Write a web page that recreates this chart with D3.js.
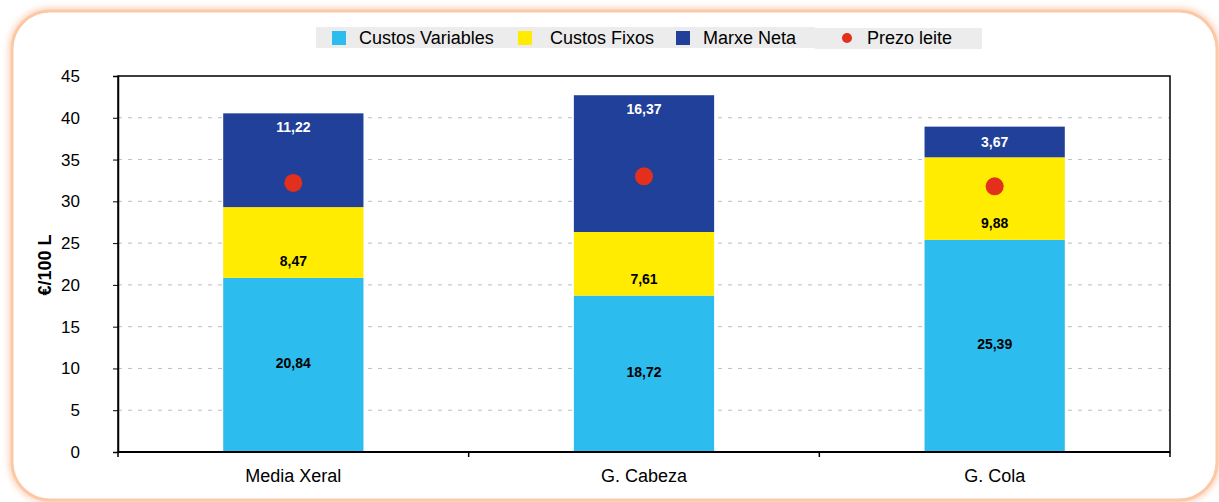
<!DOCTYPE html>
<html lang="gl">
<head>
<meta charset="utf-8">
<title>Custos e prezo do leite</title>
<script src="https://cdn.jsdelivr.net/npm/d3@7"></script>
<style>
  body { margin: 0; background: #fff; }
  text { font-family: "Liberation Sans", Arial, sans-serif; }
</style>
</head>
<body>
<script>
// data
var categories = ["Media Xeral", "G. Cabeza", "G. Cola"];
var custosVariables = [20.84, 18.72, 25.39];
var custosFixos = [8.47, 7.61, 9.88];
var marxeNeta = [11.22, 16.37, 3.67];
var prezoLeite = [32.2, 33.0, 31.8];
var yTicks = [0, 5, 10, 15, 20, 25, 30, 35, 40, 45];

var seriesNames = ["Custos Variables", "Custos Fixos", "Marxe Neta"];
var seriesColors = ["#2dbcee", "#ffec00", "#21409a"];
var dotColor = "#e2301c";

var width = 1219, height = 502;
var margin = {left: 118, right: 49, top: 76, bottom: 50};

var svg = d3.select("body").append("svg")
    .attr("width", width)
    .attr("height", height);

// soft rounded frame
var defs = svg.append("defs");
var blur = defs.append("filter").attr("id", "glow")
    .attr("x", "-5%").attr("y", "-5%").attr("width", "110%").attr("height", "110%");
blur.append("feGaussianBlur").attr("stdDeviation", 3);

svg.append("rect")
    .attr("x", 12).attr("y", 11).attr("width", 1205).attr("height", 489)
    .attr("rx", 38)
    .attr("fill", "none").attr("stroke", "#fbd3bb").attr("stroke-width", 7)
    .attr("filter", "url(#glow)");
svg.append("rect")
    .attr("x", 12).attr("y", 11).attr("width", 1205).attr("height", 489)
    .attr("rx", 38)
    .attr("fill", "#fff").attr("stroke", "#fcc8a6").attr("stroke-width", 3);

var x = d3.scaleBand()
    .domain(categories)
    .range([margin.left, width - margin.right])
    .paddingInner(0.6)
    .paddingOuter(0.3);

var y = d3.scaleLinear()
    .domain([0, 45])
    .range([height - margin.bottom, margin.top]);

var plotW = width - margin.right - margin.left;

// gridlines
svg.append("g")
    .selectAll("line")
    .data(yTicks.filter(function(d) { return d > 0 && d < 45; }))
    .enter()
    .append("line")
    .attr("x1", margin.left).attr("x2", width - margin.right)
    .attr("y1", function(d) { return y(d); })
    .attr("y2", function(d) { return y(d); })
    .attr("stroke", "#bdbdbd")
    .attr("stroke-dasharray", "4,6");

// stacked bars
var table = categories.map(function(c, i) {
    return {cat: c, "Custos Variables": custosVariables[i], "Custos Fixos": custosFixos[i], "Marxe Neta": marxeNeta[i]};
});
var stack = d3.stack().keys(seriesNames)(table);

var layers = svg.append("g").selectAll("g")
    .data(stack)
    .enter()
    .append("g")
    .attr("fill", function(d, i) { return seriesColors[i]; });

layers.selectAll("rect")
    .data(function(d) { return d; })
    .enter()
    .append("rect")
    .attr("x", function(d) { return x(d.data.cat); })
    .attr("y", function(d) { return y(d[1]); })
    .attr("width", x.bandwidth())
    .attr("height", function(d) { return y(d[0]) - y(d[1]); });

// value labels
stack.forEach(function(layer, li) {
    svg.append("g").selectAll("text")
        .data(layer)
        .enter()
        .append("text")
        .attr("x", function(d) { return x(d.data.cat) + x.bandwidth() / 2; })
        .attr("y", function(d) {
            var top = y(d[1]), bot = y(d[0]);
            var h = bot - top;
            if (li === 0) return (top + bot) / 2 + 3;
            if (li === 1) return bot - 12;
            if (h < 45) return (top + bot) / 2 + 5;
            return top + 19;
        })
        .attr("text-anchor", "middle")
        .attr("font-size", "14px")
        .attr("font-weight", "bold")
        .attr("fill", li === 2 ? "#fff" : "#000")
        .text(function(d) { return d3.format(".2f")(d[1] - d[0]).replace(".", ","); });
});

// milk price points
svg.append("g").selectAll("circle")
    .data(prezoLeite)
    .enter()
    .append("circle")
    .attr("cx", function(d, i) { return x(categories[i]) + x.bandwidth() / 2; })
    .attr("cy", function(d) { return y(d); })
    .attr("r", 9)
    .attr("fill", dotColor);

// plot border
svg.append("rect")
    .attr("x", margin.left).attr("y", margin.top)
    .attr("width", plotW).attr("height", height - margin.bottom - margin.top)
    .attr("fill", "none").attr("stroke", "#000").attr("stroke-width", 1.5);

// y axis
var yAxis = svg.append("g")
    .attr("transform", "translate(" + margin.left + ",0)")
    .call(d3.axisLeft(y).tickValues(yTicks).tickSize(5).tickPadding(33));
yAxis.select(".domain").attr("stroke-width", 1.5);
yAxis.selectAll("text").attr("font-size", "17px").attr("fill", "#000")
    .attr("font-family", "Liberation Sans, Arial, sans-serif");

// x axis with ticks at band boundaries
var xAxis = svg.append("g")
    .attr("transform", "translate(0," + (height - margin.bottom) + ")");
xAxis.append("line")
    .attr("x1", margin.left).attr("x2", width - margin.right)
    .attr("stroke", "#000").attr("stroke-width", 2);
var step = plotW / categories.length;
xAxis.selectAll("line.tick")
    .data(d3.range(categories.length + 1))
    .enter()
    .append("line")
    .attr("class", "tick")
    .attr("x1", function(d) { return margin.left + d * step; })
    .attr("x2", function(d) { return margin.left + d * step; })
    .attr("y1", 0).attr("y2", 5)
    .attr("stroke", "#000").attr("stroke-width", 1.5);
xAxis.selectAll("text")
    .data(categories)
    .enter()
    .append("text")
    .attr("x", function(d) { return x(d) + x.bandwidth() / 2; })
    .attr("y", 30)
    .attr("text-anchor", "middle")
    .attr("font-size", "18px")
    .text(function(d) { return d; });

// y axis title
svg.append("text")
    .attr("transform", "translate(51,265) rotate(-90)")
    .attr("text-anchor", "middle")
    .attr("font-size", "18px")
    .attr("font-weight", "bold")
    .text("€/100 L");

// legend
var legend = svg.append("g");
legend.append("rect")
    .attr("x", 316).attr("y", 27).attr("width", 499).attr("height", 21)
    .attr("fill", "#ececec");
legend.append("rect")
    .attr("x", 815).attr("y", 28).attr("width", 167).attr("height", 21)
    .attr("fill", "#ececec");
var legendX = [332, 518, 676];
var legendTextX = [359, 550, 703];
seriesNames.forEach(function(s, i) {
    legend.append("rect")
        .attr("x", legendX[i]).attr("y", 31)
        .attr("width", 14).attr("height", 14)
        .attr("fill", seriesColors[i]);
    legend.append("text")
        .attr("x", legendTextX[i]).attr("y", 44)
        .attr("font-size", "18px")
        .text(s);
});
legend.append("circle")
    .attr("cx", 847).attr("cy", 38).attr("r", 5)
    .attr("fill", dotColor);
legend.append("text")
    .attr("x", 867).attr("y", 44)
    .attr("font-size", "18px")
    .text("Prezo leite");
</script>
</body>
</html>
